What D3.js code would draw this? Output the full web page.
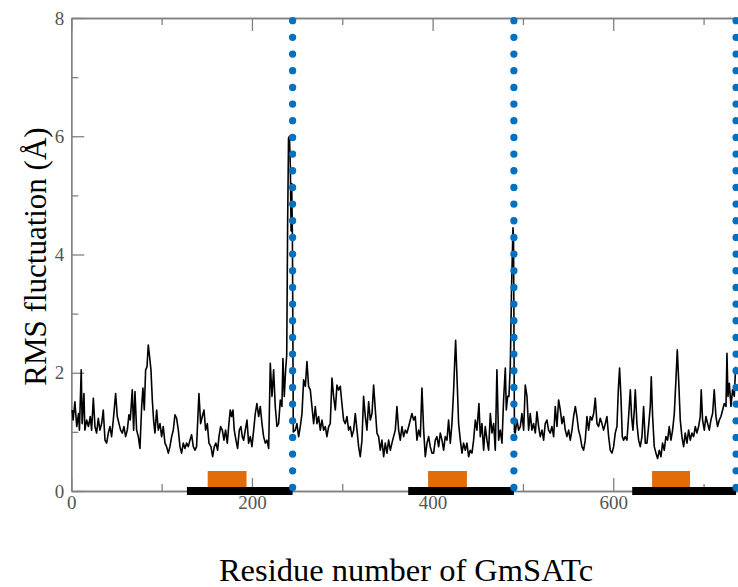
<!DOCTYPE html>
<html>
<head>
<meta charset="utf-8">
<script src="https://cdn.jsdelivr.net/npm/d3@7"></script>
<style>
  html, body { margin: 0; padding: 0; background: #fff; }
  svg { display: block; font-family: "Liberation Serif", "Times New Roman", serif; }
</style>
</head>
<body>
<div id="chart"></div>
<script>
'use strict';

// ── Data: RMSF per residue, [residue, Å] ──
const chainA = [
  [1,1.37],[2,1.20],[4,1.51],[6,1.09],[8,1.31],[9,1.03],[11,2.05],[12,1.14],[14,1.65],[15,1.03],
  [17,1.20],[19,1.09],[21,1.26],[22.5,1.03],[24.4,1.57],[26.2,1.09],[28,0.98],[29.9,1.23],[31.7,1.03],[33.6,1.14],
  [35.4,1.37],[37.3,0.86],[39.1,0.81],[41,0.98],[42.8,1.09],[44.6,0.92],[46.5,1.20],[49.1,1.65],[50.9,1.26],[52.8,1.14],
  [54.6,1.03],[56.5,0.98],[58.3,1.09],[60.1,0.92],[62,1.03],[63.8,1.29],[65.3,1.20],[67.5,1.71],[69,1.03],[70.5,1.68],
  [72.3,1.03],[74.2,0.92],[76,0.72],[77.9,1.43],[79.3,1.74],[80.8,1.37],[82.3,2.05],[83.8,2.10],[85.2,2.47],[86.7,2.27],
  [88.2,2.05],[89.7,1.54],[91.1,1.20],[92.6,0.98],[94.5,1.37],[96.3,1.03],[98.2,1.14],[100,0.92],[101.8,1.09],[103.7,0.81],
  [105.5,0.75],[107.4,0.64],[109.2,0.75],[111.1,0.92],[112.9,1.03],[114.8,1.29],[116.6,1.23],[118.5,1.03],[120.3,0.75],[122.1,0.64],
  [124,0.81],[125.8,0.72],[127.7,0.81],[129.5,0.75],[131.4,0.86],[133.2,0.95],[135.1,0.75],[136.9,0.69],[138.7,0.75],[141.3,1.65],
  [143.2,1.14],[145,1.26],[146.9,1.37],[148.7,1.03],[150.6,1.14],[152.4,0.81],[154.6,0.75],[156.5,0.58],[158.3,0.75],[160.1,0.81],
  [162,0.69],[163.5,0.92],[165.3,1.09],[167.2,1.03],[169,0.86],[170.8,1.03],[172.7,0.81],[174.5,1.14],[176,1.37],[177.5,1.26],
  [179,1.37],[180.4,1.03],[182.3,0.86],[184.1,0.72],[186,1.03],[187.8,1.09],[189.3,0.92],[190.8,0.86],[192.6,1.03],[194.5,1.20],
  [196.3,0.81],[198.2,0.92],[200,0.75],[201.9,1.03],[203.7,1.31],[205.5,1.48],[207.4,1.26],[209.2,1.43],[211.1,1.14],[212.9,0.92],
  [214.8,0.81],[216.6,0.86],[218.5,0.72],[220.3,2.16],[222.2,1.60],[224,2.05],[225.8,1.43],[227.7,1.09],[229.5,1.14],[231.4,1.54],
  [233.2,1.43],[234.3,2.24],[235.8,1.60],[237.3,2.05],[238.5,2.30],[239.5,4.50],[240.5,5.97],[241.5,6.00],[242.5,5.50],[243.3,4.40],
  [244,5.20],[244.8,4.30]
];

const chainB = [
  [245.8,1.00],[248,1.03],[249.8,1.14],[251.7,0.92],[253.5,1.09],[255.4,1.31],[257.2,1.88],[259.1,1.77],[260.9,2.19],[262.7,1.77],
  [264.6,1.71],[266.4,1.43],[268.3,1.14],[270.1,1.43],[272,1.14],[273.8,1.26],[275.7,1.03],[277.5,1.20],[279.4,1.03],[281.2,1.09],
  [283,0.92],[284.9,1.09],[286.7,1.14],[288.6,1.91],[290.4,1.60],[292.3,1.37],[294.1,1.79],[296,1.71],[297.8,1.77],[299.6,1.48],
  [301.5,1.20],[303.3,1.14],[305.2,1.26],[307,1.03],[308.9,1.09],[310.7,0.92],[312.6,1.03],[314.4,1.31],[316.3,1.03],[318.1,0.75],
  [319.9,0.58],[321.8,0.86],[323.6,1.60],[325.5,1.26],[327.3,1.03],[329.2,1.51],[331,1.20],[332.9,1.31],[334.7,1.79],[336.6,1.37],
  [338.4,0.98],[340.2,0.92],[342.1,0.69],[343.9,0.86],[345.8,0.58],[347.6,0.81],[349.5,0.64],[351.3,0.86],[353.2,0.69],[355,0.81],
  [356.8,0.92],[358.7,1.03],[360.5,1.43],[362.4,1.03],[364.2,0.86],[366.1,1.09],[367.9,0.92],[369.8,1.03],[371.6,0.98],[373.5,1.09],
  [375.3,1.20],[377.1,1.31],[379,1.20],[380.8,1.26],[382.7,0.86],[384.5,1.03],[386.4,0.92],[388.2,1.74],[390.1,1.03],[391.9,0.58],
  [393.8,0.81],[395.6,0.92],[397.4,0.75],[399.3,0.64],[401.1,0.64],[403,0.86],[404.8,0.92],[406.7,0.75],[408.5,0.98],[410.4,0.86],
  [412.2,0.69],[414,0.92],[415.9,0.86],[417.7,1.20],[419.6,0.81],[421.4,1.14],[423.3,1.71],[424.4,2.16],[425.5,2.55],[427,1.93],
  [428.8,1.14],[430.7,0.86],[432.5,0.64],[434.3,0.81],[436.2,0.69],[438,0.81],[439.9,0.58],[441.7,0.69],[443.6,0.64],[445.4,0.86],
  [447.3,1.20],[449.1,1.03],[451.3,1.48],[452.8,0.92],[454.6,1.14],[456.5,0.69],[458.3,1.09],[460.2,0.86],[462,0.69],[463.9,1.31],
  [465.7,0.98],[467.6,1.14],[469.4,0.69],[471.2,2.05],[473.1,0.86],[474.9,1.03],[476.8,0.81],[478.6,1.54],[480.5,2.08],[481.6,1.37],
  [483.1,1.60],[484.5,1.60],[486,2.10],[487.5,3.50],[489,4.45],[489.6,4.30]
];

const chainC = [
  [490.6,1.00],[491.5,0.98],[493.4,1.20],[495.2,1.03],[497.1,1.09],[498.9,1.31],[500.8,1.03],[502.6,1.79],[504.5,1.60],[506.3,1.03],
  [508.1,1.31],[510,1.03],[511.8,1.14],[513.7,0.98],[515.5,1.34],[517.4,1.09],[519.2,0.92],[521.1,1.03],[522.9,0.86],[524.7,1.14],
  [526.6,1.20],[528.4,1.03],[530.3,0.98],[532.1,1.09],[534,0.92],[535.8,1.43],[537.7,1.09],[539.5,1.54],[541.4,1.37],[543.2,1.14],
  [545,1.26],[546.9,1.03],[548.7,0.92],[550.6,1.03],[552.4,0.86],[554.3,1.03],[556.1,1.26],[558,1.43],[559.8,1.26],[561.6,1.03],
  [563.5,0.92],[565.3,0.75],[567.2,0.69],[569,0.86],[570.9,1.26],[572.7,1.03],[574.6,1.26],[576.4,1.20],[578.3,1.31],[580.1,1.57],
  [582,1.14],[583.8,1.09],[585.6,1.23],[587.5,1.14],[589.3,1.03],[591.2,1.14],[593,1.26],[594.9,0.92],[596.7,0.69],[598.6,0.64],
  [600.4,0.75],[602.2,0.98],[604.1,1.09],[605.6,1.71],[607,2.08],[608.5,1.60],[610,0.92],[611.5,0.86],[613.3,0.92],[615.2,0.86],
  [617,1.26],[618.9,1.71],[620.3,1.26],[621.8,1.03],[623.3,1.37],[624.4,1.71],[626.2,1.14],[628.1,0.86],[629.9,0.75],[631.8,0.92],
  [633.6,1.43],[635.5,0.81],[637.3,0.81],[639.1,1.09],[641,1.43],[642.1,1.93],[643.6,1.26],[645.4,0.75],[647.3,0.64],[649.1,0.55],
  [651,0.69],[652.8,0.58],[654.6,0.81],[656.5,0.69],[658.3,0.92],[660.2,0.86],[662,1.09],[663.9,0.86],[665.7,1.03],[667.6,1.31],
  [669.4,1.88],[670.9,2.39],[672.4,1.88],[674.2,1.20],[676,0.92],[677.9,0.75],[679.7,0.98],[681.6,0.81],[683.4,1.03],[685.3,0.86],
  [687.1,0.98],[689,0.92],[690.8,1.09],[692.6,0.98],[694.5,1.09],[696.3,1.26],[697.4,1.71],[698.9,1.20],[700.8,1.03],[702.6,1.26],
  [704.5,1.14],[706.3,1.03],[708.1,1.20],[710,1.31],[711.8,1.71],[713.7,1.26],[715.5,1.09],[717.4,1.20],[719.2,1.26],[721.1,1.37],
  [722.9,1.48],[724.8,1.43],[725.9,2.33],[727,1.60],[728.5,1.82],[730.3,1.43],[732.1,1.71],[734,1.60],[735.5,2.10]
];

// chain boundaries (blue dotted lines)
const chainEnds = [245, 490, 736];
// black bars along the x axis: [start, end] residue
const domainBars = [[128, 245], [373, 490], [621, 736]];
// orange boxes above the black bars
const motifBoxes = [[151, 194], [395, 438], [643, 685]];

const xMajorTicks = [0, 200, 400, 600];
const xMinorTicks = [100, 300, 500, 700];
const yMajorTicks = [0, 2, 4, 6, 8];
const yMinorTicks = [1, 3, 5, 7];

// ── Layout ───────────────────────────────────────────────────
const W = 738, H = 587;
const plotLeft = 71.3, plotTop = 18, plotBottom = 491;

const svg = d3.select('#chart').append('svg')
  .attr('width', W)
  .attr('height', H);

const x = d3.scaleLinear().domain([0, 800]).range([plotLeft, plotLeft + 722.6]);
const y = d3.scaleLinear().domain([0, 8]).range([plotBottom, plotTop]);

const axisColor = '#808080';
const labelColor = '#555';

// ── Axes (ticks point inward) ────────────────────────────────
function styleAxis(g) {
  g.select('.domain').attr('stroke', axisColor).attr('stroke-width', 1.3);
  g.selectAll('.tick line').attr('stroke', axisColor).attr('stroke-width', 1.3);
  g.selectAll('.tick text')
    .attr('fill', labelColor)
    .attr('font-size', 19)
    .attr('font-family', '"Liberation Serif", "Times New Roman", serif');
}

svg.append('g')
  .attr('transform', `translate(0,${plotBottom})`)
  .call(d3.axisBottom(x).tickValues(xMajorTicks).tickSize(-13).tickSizeOuter(0).tickPadding(5))
  .call(styleAxis);
svg.append('g')
  .attr('transform', `translate(0,${plotBottom})`)
  .call(d3.axisBottom(x).tickValues(xMinorTicks).tickSize(-7).tickSizeOuter(0).tickFormat(''))
  .call(styleAxis);

svg.append('g')
  .attr('transform', `translate(0,${plotTop})`)
  .call(d3.axisTop(x).tickValues(xMajorTicks).tickSize(-13).tickSizeOuter(0).tickFormat(''))
  .call(styleAxis);
svg.append('g')
  .attr('transform', `translate(0,${plotTop})`)
  .call(d3.axisTop(x).tickValues(xMinorTicks).tickSize(-7).tickSizeOuter(0).tickFormat(''))
  .call(styleAxis);

svg.append('g')
  .attr('transform', `translate(${plotLeft},0)`)
  .call(d3.axisLeft(y).tickValues(yMajorTicks).tickSize(-13).tickSizeOuter(0).tickPadding(7))
  .call(styleAxis);
svg.append('g')
  .attr('transform', `translate(${plotLeft},0)`)
  .call(d3.axisLeft(y).tickValues(yMinorTicks).tickSize(-7).tickSizeOuter(0).tickFormat(''))
  .call(styleAxis);

// ── RMSF trace ───────────────────────────────────────────────
const line = d3.line()
  .x(d => x(d[0]))
  .y(d => y(d[1]));

const trace = chainA.concat(chainB, chainC);

svg.append('path')
  .datum(trace)
  .attr('fill', 'none')
  .attr('stroke', '#000')
  .attr('stroke-width', 1.6)
  .attr('stroke-linejoin', 'round')
  .attr('d', line);

// ── Domain bars and motif boxes ──────────────────────────────
svg.selectAll('rect.motif')
  .data(motifBoxes)
  .join('rect')
  .attr('class', 'motif')
  .attr('x', d => x(d[0]))
  .attr('width', d => x(d[1]) - x(d[0]))
  .attr('y', y(0) - 20)
  .attr('height', 16)
  .attr('fill', '#e36c0a');

svg.selectAll('rect.domain-bar')
  .data(domainBars)
  .join('rect')
  .attr('class', 'domain-bar')
  .attr('x', d => x(d[0]))
  .attr('width', d => x(d[1]) - x(d[0]))
  .attr('y', y(0) - 4)
  .attr('height', 8)
  .attr('fill', '#000');

// ── Chain boundaries: blue dotted lines ──────────────────────
svg.selectAll('line.chain-end')
  .data(chainEnds)
  .join('line')
  .attr('class', 'chain-end')
  .attr('x1', d => x(d))
  .attr('x2', d => x(d))
  .attr('y1', y(8) + 2.7)
  .attr('y2', y(0))
  .attr('stroke', '#0070c0')
  .attr('stroke-width', 7.3)
  .attr('stroke-linecap', 'round')
  .attr('stroke-dasharray', '0 16.67');

// ── Axis titles ──────────────────────────────────────────────
svg.append('text')
  .attr('x', 406)
  .attr('y', 581)
  .attr('text-anchor', 'middle')
  .attr('font-size', 32.5)
  .attr('fill', '#000')
  .text('Residue number of GmSATc');

svg.append('text')
  .attr('transform', `translate(46,${(plotTop + plotBottom) / 2 + 2}) rotate(-90)`)
  .attr('text-anchor', 'middle')
  .attr('font-size', 31)
  .attr('fill', '#000')
  .text('RMS fluctuation (Å)');
</script>
</body>
</html>
